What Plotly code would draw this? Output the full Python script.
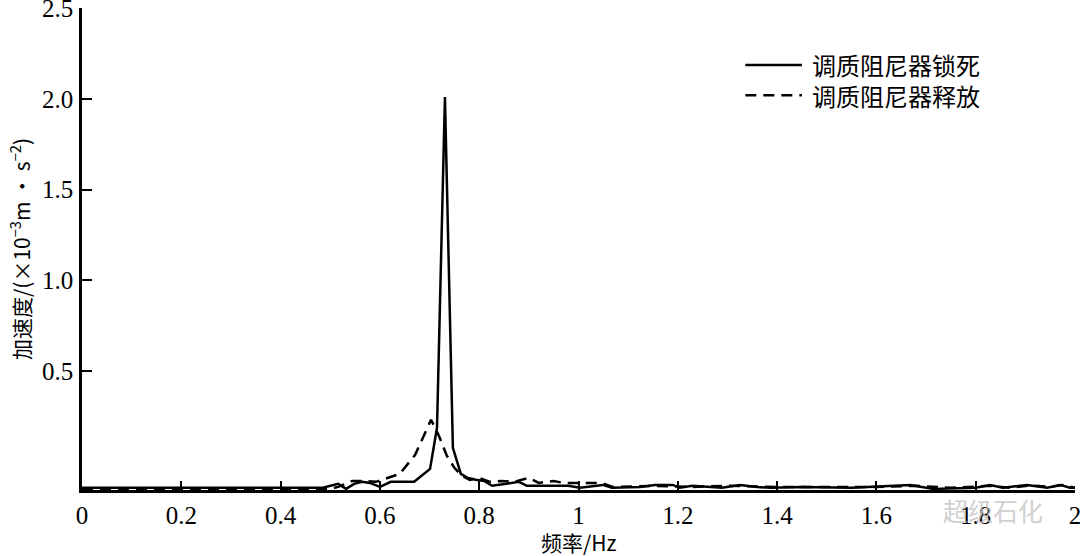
import plotly.graph_objects as go

# Series (frequency in Hz, acceleration in the y-axis units)
locked_x = [0.000, 0.485, 0.516, 0.532, 0.548, 0.564, 0.580, 0.600, 0.622, 0.669,
            0.701, 0.715, 0.731, 0.747, 0.763, 0.777, 0.793, 0.810, 0.826, 0.856,
            0.880, 0.896, 0.933, 0.979, 1.003, 1.049, 1.067, 1.124, 1.154, 1.190,
            1.204, 1.229, 1.289, 1.325, 1.360, 1.386, 1.450, 1.550, 1.668, 1.714,
            1.800, 1.829, 1.855, 1.903, 1.944, 1.970, 1.990, 2.000]
locked_y = [-0.143, -0.143, -0.121, -0.149, -0.121, -0.110, -0.116, -0.138, -0.110, -0.110,
            -0.039, 0.188, 2.010, 0.077, -0.066, -0.088, -0.099, -0.105, -0.132, -0.121,
            -0.110, -0.132, -0.132, -0.132, -0.143, -0.127, -0.143, -0.138, -0.127, -0.127,
            -0.143, -0.132, -0.143, -0.127, -0.138, -0.143, -0.138, -0.143, -0.127, -0.149,
            -0.143, -0.127, -0.143, -0.127, -0.143, -0.127, -0.143, -0.143]

released_x = [0.000, 0.500, 0.516, 0.544, 0.568, 0.592, 0.610, 0.640, 0.671, 0.703,
              0.719, 0.735, 0.750, 0.765, 0.781, 0.800, 0.822, 0.845, 0.870, 0.900,
              0.920, 0.950, 0.970, 1.003, 1.047, 1.069, 1.150, 1.230, 1.300, 1.400,
              1.500, 1.600, 1.680, 1.750, 1.829, 1.870, 1.910, 1.950, 1.975, 2.000]
released_y = [-0.149, -0.149, -0.138, -0.105, -0.105, -0.110, -0.094, -0.066, 0.039, 0.232,
              0.143, 0.033, -0.033, -0.077, -0.099, -0.088, -0.110, -0.105, -0.110, -0.088,
              -0.116, -0.105, -0.116, -0.116, -0.116, -0.138, -0.132, -0.138, -0.132, -0.138,
              -0.138, -0.138, -0.132, -0.143, -0.132, -0.143, -0.130, -0.138, -0.127, -0.143]

series_names = ["调质阻尼器锁死", "调质阻尼器释放"]

x_ticks = [0, 0.2, 0.4, 0.6, 0.8, 1.0, 1.2, 1.4, 1.6, 1.8, 2.0]
x_ticktext = ["0", "0.2", "0.4", "0.6", "0.8", "1", "1.2", "1.4", "1.6", "1.8", "2"]
y_ticks = [0.5, 1.0, 1.5, 2.0, 2.5]
y_ticktext = ["0.5", "1.0", "1.5", "2.0", "2.5"]

SERIF = "Liberation Serif"
CJK = "Noto Sans CJK SC"
DASH = "11px,7px"

fig = go.Figure()
fig.add_trace(go.Scatter(x=locked_x, y=locked_y, mode="lines", name=series_names[0],
                         line=dict(color="black", width=2.5), showlegend=False))
fig.add_trace(go.Scatter(x=released_x, y=released_y, mode="lines", name=series_names[1],
                         line=dict(color="black", width=2.5, dash=DASH), showlegend=False))

# Manual legend (top right)
legend_rows = [(0.882, "solid"), (0.819, DASH)]
for (yy, ds), name in zip(legend_rows, series_names):
    fig.add_shape(type="line", xref="paper", yref="paper",
                  x0=0.668, x1=0.725, y0=yy, y1=yy,
                  line=dict(color="black", width=2.5, dash=ds))
    fig.add_annotation(xref="paper", yref="paper", x=0.733, y=yy, text=name,
                       showarrow=False, xanchor="left", yanchor="middle",
                       font=dict(family=CJK, size=24, color="black"))

# Axis titles
fig.add_annotation(xref="paper", yref="paper", x=0.5, y=-0.107, text="频率/Hz",
                   showarrow=False, xanchor="center", yanchor="middle",
                   font=dict(family=CJK, size=21, color="black"))
fig.add_annotation(xref="paper", yref="paper", x=-0.0625, y=0.50,
                   text="加速度/(×10<sup>−3</sup>m · s<sup>−2</sup>)",
                   showarrow=False, textangle=-90, xanchor="center", yanchor="middle",
                   font=dict(family=CJK, size=21, color="black"))

# faint watermark
fig.add_annotation(xref="paper", yref="paper", x=0.97, y=-0.041, text="超级石化",
                   showarrow=False, xanchor="right", yanchor="middle",
                   font=dict(family=CJK, size=25, color="rgba(195,195,195,0.8)"))

fig.update_layout(
    width=1080, height=556,
    margin=dict(l=82, r=5, t=8, b=66),
    paper_bgcolor="white", plot_bgcolor="white",
    font=dict(family=SERIF, size=25, color="black"),
)
fig.update_xaxes(
    range=[0, 2], tickvals=x_ticks, ticktext=x_ticktext, automargin=False,
    showline=True, linecolor="black", linewidth=2.5, mirror=False,
    ticks="inside", ticklen=9, tickwidth=2, tickcolor="black",
    showgrid=False, zeroline=False, ticklabelstandoff=1, ticklabeloverflow="allow",
    tickfont=dict(family=SERIF, size=25, color="black"),
)
fig.update_yaxes(
    range=[-0.155, 2.5], tickvals=y_ticks, ticktext=y_ticktext, automargin=False,
    showline=True, linecolor="black", linewidth=2.5, mirror=False,
    ticks="inside", ticklen=10, tickwidth=2, tickcolor="black",
    showgrid=False, zeroline=False, ticklabelstandoff=1, ticklabeloverflow="allow",
    tickfont=dict(family=SERIF, size=25, color="black"),
)

fig.write_html("out.html", config={"displayModeBar": False},
               post_script="document.body.style.margin='0';document.body.style.overflow='hidden';")
